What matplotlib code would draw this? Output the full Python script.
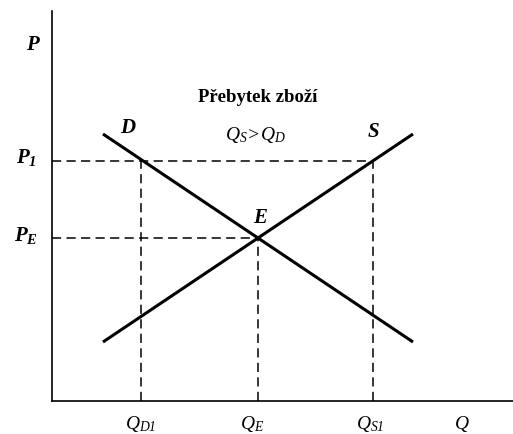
import matplotlib
matplotlib.use("Agg")
from matplotlib import pyplot as plt

plt.rcParams['font.family'] = ['Liberation Serif', 'DejaVu Serif']
plt.rcParams['mathtext.fontset'] = 'custom'
plt.rcParams['mathtext.it'] = 'Liberation Serif:italic'
plt.rcParams['mathtext.bf'] = 'Liberation Serif:italic:bold'
plt.rcParams['mathtext.rm'] = 'Liberation Serif:italic'

# supply and demand (Q, P)
demand_q = [51, 361]
demand_p = [267, 59]
supply_q = [51, 361]
supply_p = [59, 267]

# key levels
p_1 = 240
p_e = 163
q_d1 = 89
q_e = 206
q_s1 = 321

fig = plt.figure(figsize=(5.13, 4.35), dpi=100)
ax = fig.add_axes([52 / 513, 33 / 435, 461 / 513, 390 / 435])
ax.set_xlim(0, 461)
ax.set_ylim(0, 390)
for side in ['top', 'right']:
  ax.spines[side].set_visible(False)
for side in ['left', 'bottom']:
  ax.spines[side].set_linewidth(1.2)
ax.set_xticks([])
ax.set_yticks([])

ax.plot(demand_q, demand_p, color='black', lw=2.2, solid_capstyle='butt')
ax.plot(supply_q, supply_p, color='black', lw=2.2, solid_capstyle='butt')

dash = dict(color='black', lw=1.1, ls=(0, (6, 3.5)))
ax.plot([0, q_s1], [p_1, p_1], **dash)
ax.plot([0, q_e], [p_e, p_e], **dash)
ax.plot([q_d1, q_d1], [0, p_1], **dash)
ax.plot([q_s1, q_s1], [0, p_1], **dash)
ax.plot([q_e, q_e], [0, p_e], **dash)

bold = dict(fontsize=15, fontweight='bold', style='italic', ha='center', va='center', clip_on=False)
ax.text(-20, 357, 'P', **bold)
ax.text(-26, 245, r'$\mathbf{P}_{\mathbf{1}}$', fontsize=15, ha='center', va='center')
ax.text(-26, 166, r'$\mathbf{P}_{\mathbf{E}}$', fontsize=15, ha='center', va='center')
ax.text(76, 274, 'D', **bold)
ax.text(321, 270, 'S', **bold)
ax.text(208, 184, 'E', **bold)

ax.text(206, 304, 'Přebytek zboží', fontsize=13.5, fontweight='bold', ha='center', va='center')
ax.text(204, 267, r'$Q_S\!>\!Q_D$', fontsize=14, ha='center', va='center')

ax.text(q_d1, -22, r'$Q_{D1}$', fontsize=14, ha='center', va='center')
ax.text(q_e - 6, -22, r'$Q_E$', fontsize=14, ha='center', va='center')
ax.text(q_s1 - 3, -22, r'$Q_{S1}$', fontsize=14, ha='center', va='center')
ax.text(410, -22, r'$Q$', fontsize=14, ha='center', va='center')

fig.savefig('out.png', dpi=100)
